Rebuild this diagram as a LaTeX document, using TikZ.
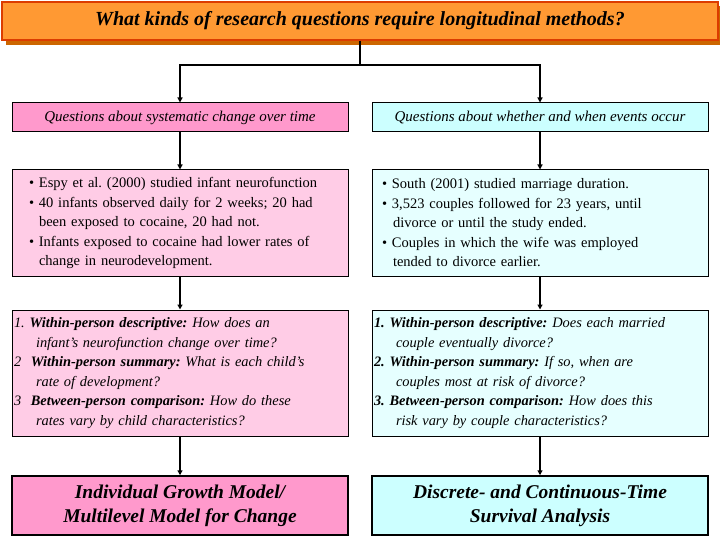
\documentclass[tikz,border=0pt]{standalone}
\usepackage{fontspec}
\setmainfont{Liberation Serif}
\usetikzlibrary{arrows.meta}
\frenchspacing
\definecolor{orng}{HTML}{FF9933}
\definecolor{orngd}{HTML}{CC6600}
\definecolor{pinkA}{HTML}{FF99CC}
\definecolor{pinkB}{HTML}{FFCCE6}
\definecolor{cyanA}{HTML}{CCFFFF}
\definecolor{cyanB}{HTML}{E6FFFF}
\tikzset{
 box/.style={draw=black, line width=1pt, minimum width=336pt, inner sep=4pt, align=left, font=\fontsize{14.5}{19.5}\selectfont},
 arr/.style={-{Triangle[length=5pt,width=5pt]}, line width=1.2pt},
}
\begin{document}
\begin{tikzpicture}[x=1pt,y=-1pt]
\useasboundingbox (0,0) rectangle (720,540);
\fill[orngd] (6,6) rectangle (722,45);
\node[draw={rgb,255:red,220;green,60;blue,0}, line width=1.5pt, fill=orng, minimum width=716pt, minimum height=38pt, font=\fontsize{20}{22}\selectfont\bfseries\itshape] (title) at (360,21) {What kinds of research questions require longitudinal methods?};
\node[box, fill=pinkA, minimum height=29pt, align=center, font=\fontsize{15}{16}\selectfont\itshape] (l1) at (180,117.5) {Questions about systematic change over time};
\node[box, fill=cyanA, minimum height=29pt, align=center, font=\fontsize{15}{16}\selectfont\itshape] (r1) at (540,117.5) {Questions about whether and when events occur};
\node[box, fill=pinkB, minimum height=106pt, text width=326pt, font=\fontsize{14.5}{19.5}\selectfont] (l2) at (180,223) {%
\hspace*{12pt}• Espy et al. (2000) studied infant neurofunction\\
\hspace*{12pt}• 40 infants observed daily for 2 weeks; 20 had\\
\hspace*{22pt}been exposed to cocaine, 20 had not.\\
\hspace*{12pt}• Infants exposed to cocaine had lower rates of\\
\hspace*{22pt}change in neurodevelopment.};
\node[box, fill=cyanB, minimum height=106pt, text width=326pt] (r2) at (540,223) {%
\hspace*{5pt}• South (2001) studied marriage duration.\\
\hspace*{5pt}• 3,523 couples followed for 23 years, until\\
\hspace*{16pt}divorce or until the study ended.\\
\hspace*{5pt}• Couples in which the wife was employed\\
\hspace*{16pt}tended to divorce earlier.};
\node[box, fill=pinkB, minimum height=126pt, text width=332pt, inner sep=2pt, font=\fontsize{14.4}{19.5}\selectfont\itshape] (l3) at (180,373) {%
1.\ \textbf{Within-person descriptive:} How does an\\
\hspace*{22pt}infant’s neurofunction change over time?\\
2\ \ \textbf{Within-person summary:} What is each child’s\\
\hspace*{22pt}rate of development?\\
3\ \ \textbf{Between-person comparison:} How do these\\
\hspace*{22pt}rates vary by child characteristics?};
\node[box, fill=cyanB, minimum height=126pt, text width=332pt, inner sep=2pt, font=\fontsize{14.4}{19.5}\selectfont\itshape] (r3) at (540,373) {%
\textbf{1.\ Within-person descriptive:} Does each married\\
\hspace*{22pt}couple eventually divorce?\\
\textbf{2.\ Within-person summary:} If so, when are\\
\hspace*{22pt}couples most at risk of divorce?\\
\textbf{3.\ Between-person comparison:} How does this\\
\hspace*{22pt}risk vary by couple characteristics?};
\node[box, line width=1.5pt, fill=pinkA, minimum height=59pt, align=center, font=\fontsize{19.5}{24}\selectfont\bfseries\itshape] (l4) at (180,505.5) {Individual Growth Model/\\Multilevel Model for Change};
\node[box, line width=1.5pt, fill=cyanA, minimum height=59pt, align=center, font=\fontsize{19.5}{24}\selectfont\bfseries\itshape] (r4) at (540,505.5) {Discrete- and Continuous-Time\\Survival Analysis};
\coordinate (j) at (360,65);
\draw[line width=1.2pt] (title.south) -- (j);
\draw[arr] (j) -| (l1.north);
\draw[arr] (j) -| (r1.north);
\foreach \a/\b in {l1/l2,l2/l3,l3/l4,r1/r2,r2/r3,r3/r4}
  \draw[arr] (\a.south) -- (\b.north);
\end{tikzpicture}
\end{document}
